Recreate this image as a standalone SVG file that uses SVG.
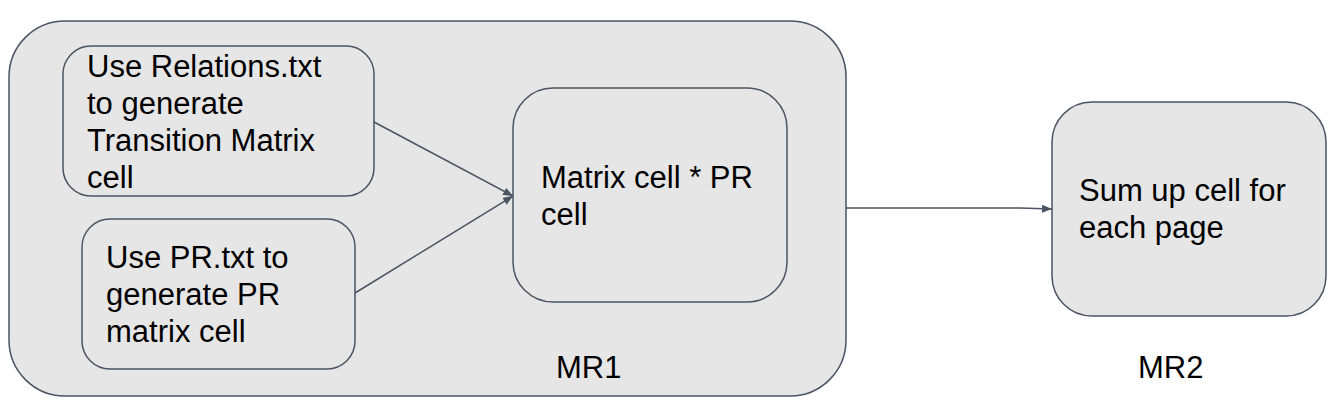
<svg xmlns="http://www.w3.org/2000/svg" width="1334" height="407" viewBox="0 0 1334 407">
<style>
.box{fill:#e6e6e6;stroke:#4a5463;stroke-width:1.5}
.t{font-family:"Liberation Sans",Arial,sans-serif;font-size:31px;fill:#000}
.c{fill:none;stroke:#4a5463;stroke-width:1.5}
</style>
<defs>
<marker id="ah" viewBox="0 0 10 8" refX="10" refY="4" markerWidth="10" markerHeight="8" markerUnits="userSpaceOnUse" orient="auto">
<path d="M0,0 L10,4 L0,8 Z" fill="#4a5463"/>
</marker>
</defs>
<rect width="1334" height="407" fill="#fff"/>
<g id="mr1">
<rect class="box" x="9" y="21" width="837" height="375" rx="56" ry="56"/>
<text class="t" x="556" y="378">MR1</text>
</g>
<g id="relations">
<rect class="box" x="63" y="46" width="311" height="150" rx="28" ry="28"/>
<text class="t" x="87" y="77">Use Relations.txt</text>
<text class="t" x="87" y="114">to generate</text>
<text class="t" x="87" y="151">Transition Matrix</text>
<text class="t" x="87" y="188">cell</text>
</g>
<g id="pr">
<rect class="box" x="82" y="219" width="273" height="150" rx="28" ry="28"/>
<text class="t" x="106" y="268">Use PR.txt to</text>
<text class="t" x="106" y="305">generate PR</text>
<text class="t" x="106" y="342">matrix cell</text>
</g>
<g id="multiply">
<rect class="box" x="513" y="88" width="274" height="214" rx="40" ry="40"/>
<text class="t" x="541" y="188">Matrix cell * PR</text>
<text class="t" x="541" y="225">cell</text>
</g>
<g id="mr2">
<rect class="box" x="1052" y="102" width="274" height="214" rx="40" ry="40"/>
<text class="t" x="1079" y="201">Sum up cell for</text>
<text class="t" x="1079" y="238">each page</text>
<text class="t" x="1138" y="378">MR2</text>
</g>
<g id="connectors">
<line class="c" x1="374" y1="122" x2="513" y2="196" marker-end="url(#ah)"/>
<line class="c" x1="355" y1="293" x2="513" y2="196" marker-end="url(#ah)"/>
<polyline class="c" points="846,208 1020,208 1052,209" marker-end="url(#ah)"/>
</g>
</svg>
